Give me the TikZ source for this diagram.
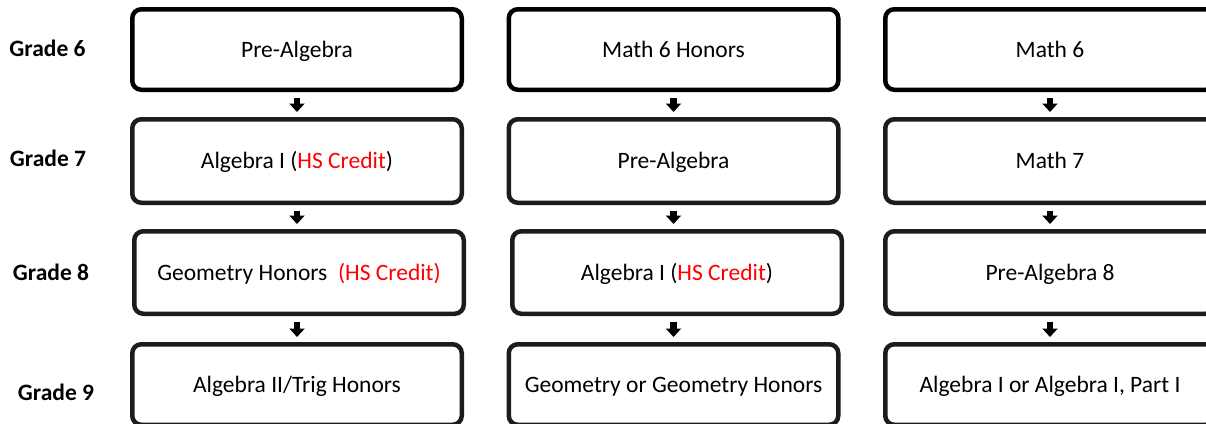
\documentclass[tikz,border=0pt]{standalone}
\usepackage{fontspec}
\setmainfont{Carlito}
\usetikzlibrary{arrows.meta}
\definecolor{hsred}{HTML}{FF0000}
\definecolor{boxdark}{HTML}{1C1C1C}
\tikzset{
  course/.style={draw=boxdark, line width=4.5pt, rounded corners=9pt, fill=white,
    minimum width=329.5pt, inner sep=0pt, align=center,
    text height=18pt, text depth=3pt,
    font=\fontsize{23.5}{28}\selectfont},
  toprow/.style={draw=black},
  grade/.style={font=\fontsize{23.5}{28}\selectfont\bfseries, inner sep=0pt,
    text height=18pt, text depth=3pt},
  flow/.style={-{Triangle[width=15pt,length=8.5pt]}, line width=6.5pt, black,
    shorten <=5.5pt, shorten >=5pt}
}
\newcommand{\hscredit}{\textcolor{hsred}{HS Credit}}
\begin{document}
\begin{tikzpicture}[x=1pt,y=-1pt]
\useasboundingbox (0,0) rectangle (1206,423);
\clip (0,0) rectangle (1206,423);
\fill[white] (0,0) rectangle (1206,423);
% grade labels
\node[grade] (g6) at (47.5,49) {Grade 6};
\node[grade] (g7) at (48,158.5) {Grade 7};
\node[grade] (g8) at (51,272.5) {Grade 8};
\node[grade] (g9) at (56,392.5) {Grade 9};
% row 1
\node[course,toprow,minimum height=80.5pt] (a1) at (297,49.5) {Pre-Algebra};
\node[course,toprow,minimum height=80.5pt] (b1) at (673.5,49.5) {Math 6 Honors};
\node[course,toprow,minimum height=80.5pt] (c1) at (1050,49.5) {Math 6};
% row 2
\node[course,minimum height=83.5pt] (a2) at (297,161) {Algebra I (\hscredit)};
\node[course,minimum height=83.5pt] (b2) at (673.5,161) {Pre-Algebra};
\node[course,minimum height=83.5pt] (c2) at (1050,161) {Math 7};
% row 3
\node[course,minimum height=82.5pt] (a3) at (299,272.5) {Geometry Honors\ \ \textcolor{hsred}{(HS Credit)}};
\node[course,minimum height=82.5pt] (b3) at (677,272.5) {Algebra I (\hscredit)};
\node[course,minimum height=82.5pt] (c3) at (1050,272.5) {Pre-Algebra 8};
% row 4
\node[course,minimum height=80.5pt] (a4) at (297,384.5) {Algebra II/Trig Honors};
\node[course,minimum height=80.5pt] (b4) at (673.5,384.5) {Geometry or Geometry Honors};
\node[course,minimum height=80.5pt] (c4) at (1050,384.5) {Algebra I or Algebra I, Part I};
% arrows
\draw[flow] (a1.south) -- (a1.south |- a2.north);
\draw[flow] (b1.south) -- (b1.south |- b2.north);
\draw[flow] (c1.south) -- (c1.south |- c2.north);
\draw[flow] (a2.south) -- (a2.south |- a3.north);
\draw[flow] (b2.south) -- (b2.south |- b3.north);
\draw[flow] (c2.south) -- (c2.south |- c3.north);
\draw[flow] (a3.south -| a4.north) -- (a4.north);
\draw[flow] (b3.south -| b4.north) -- (b4.north);
\draw[flow] (c3.south) -- (c3.south |- c4.north);
\end{tikzpicture}
\end{document}
